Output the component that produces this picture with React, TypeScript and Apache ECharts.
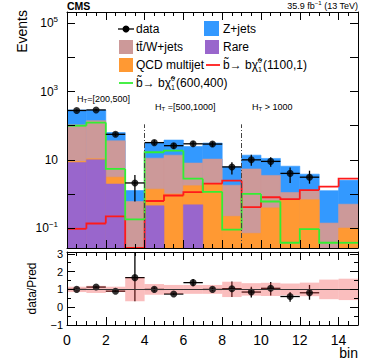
import React, { useEffect, useRef } from 'react';
import * as echarts from 'echarts';

const FONT = '"Liberation Sans", Arial, Helvetica, sans-serif';

// ---- data (15 bins, edges 0..15) ----
const binIndex = [0, 1, 2, 3, 4, 5, 6, 7, 8, 9, 10, 11, 12, 13, 14];
const rare = [8.3, 10, 1.95, 0, 0.45, 0, 0.48, 0, 0, 0, 0, 0, 0, 0, 0];
const qcd = [0.7, 0.7, 1.15, 0, 0.93, 1.0, 1.26, 2.0, 0.22, 0.07, 0.39, 0.68, 0.68, 0, 0.1];
const ttw = [97, 130, 33, 0.6, 9.8, 12.7, 6.3, 8.5, 1.58, 5.33, 3.1, 0.42, 0.55, 0.14, 0.4];
const zjets = [184, 149, 27, 0.66, 19.8, 24.3, 16.5, 20.5, 4.4, 8.3, 7.5, 5.4, 2.57, 1.11, 2.0];
const sig1100 = [0.095, 0.136, 0.22, 0, 0.62, 0.9, 1.13, 2.0, 2.45, 0.41, 0.8, 0.7, 1.3, 1.63, 2.8];
const sig600 = [100, 124, 5.4, 0.18, 16.7, 18.6, 2.8, 1.15, 0.09, 1.0, 0.6, 0.037, 0.093, 0.037, 0.037];
const dataObs = [280, 290, 56, 2.1, 32, 26, 29.5, 29, 6.2, 10, 9, 4.0, 3.1];
const dataLow = [263, 273, 49, 0.6, 27, 21, 24.5, 24, 3.7, 6.7, 6.3, 2.1, 2.0];
const dataHigh = [297, 307, 64, 3.6, 38, 31, 35, 34, 8.5, 14, 12, 6.0, 4.8];
const ratio = [1.0, 1.13, 0.9, 1.66, 1.0, 0.74, 1.38, 1.0, 1.04, 0.85, 1.06, 0.6, 0.81];
const ratioLow = [0.95, 1.08, 0.85, 0.34, 0.88, 0.68, 1.18, 0.9, 0.57, 0.55, 0.66, 0.3, 0.42];
const ratioHigh = [1.05, 1.18, 0.95, 3.3, 1.12, 0.8, 1.58, 1.1, 1.45, 1.15, 1.41, 0.85, 1.25];
const predUnc = [0.15, 0.2, 0.15, 0.66, 0.3, 0.25, 0.25, 0.25, 0.43, 0.35, 0.37, 0.33, 0.38, 0.55, 0.6];
const mainLabelExps = [-1, 1, 3, 5];
const htRegions = [
  { text: '{n|H}{t|T}{n|=[200,500]}', x: 77, y: 98.5 },
  { text: '{n|H}{t|T}{n| =[500,1000]}', x: 155, y: 106.5 },
  { text: '{n|H}{t|T}{n| > 1000}', x: 252, y: 106.5 },
];
const regionBoundaries = [4, 9];

const Y_MIN = 0.026;
const Y_MAX = 2.16e5;

const C_Z = '#3399ff';
const C_TTW = '#cc9999';
const C_RARE = '#9966cc';
const C_QCD = '#ff9933';
const C_RED = '#ff1a1a';
const C_GREEN = '#33ee33';

const cumRare = rare.slice();
const cumQcd = rare.map((v, i) => v + qcd[i]);
const cumTtw = cumQcd.map((v, i) => v + ttw[i]);
const cumZ = cumTtw.map((v, i) => v + zjets[i]);

function histSeries(name: string, cum: number[], color: string) {
  return {
    type: 'custom',
    name,
    xAxisIndex: 0,
    yAxisIndex: 0,
    clip: true,
    encode: { x: 0, y: 1 },
    data: binIndex.map((i) => [i, cum[i]]).filter((d) => d[1] > Y_MIN),
    renderItem: (_p: any, api: any) => {
      const i = api.value(0);
      const v = api.value(1);
      const a = api.coord([i, v]);
      const b = api.coord([i + 1, Y_MIN]);
      return {
        type: 'rect',
        shape: { x: a[0], y: a[1], width: b[0] - a[0], height: b[1] - a[1] },
        style: { fill: color, stroke: color, lineWidth: 0.6 },
      };
    },
  };
}

function stepSeries(name: string, vals: number[], color: string) {
  return {
    type: 'custom',
    name,
    xAxisIndex: 0,
    yAxisIndex: 0,
    clip: true,
    encode: { x: 0, y: 1 },
    data: binIndex.map((i) => [
      i,
      Math.max(vals[i], Y_MIN),
      Math.max(i > 0 ? vals[i - 1] : vals[i], Y_MIN),
    ]),
    renderItem: (_p: any, api: any) => {
      const i = api.value(0);
      const v = api.value(1);
      const pv = api.value(2);
      const p0 = api.coord([i, pv]);
      const p1 = api.coord([i, v]);
      const p2 = api.coord([i + 1, v]);
      return {
        type: 'polyline',
        shape: { points: [p0, p1, p2] },
        style: { stroke: color, lineWidth: 1.8, fill: 'none' },
      };
    },
  };
}

function errSeries(xi: number, yi: number, vals: number[], lo: number[], hi: number[]) {
  return {
    type: 'custom',
    xAxisIndex: xi,
    yAxisIndex: yi,
    clip: true,
    encode: { x: 0, y: 1 },
    data: vals.map((v, i) => [i + 0.5, v, lo[i], hi[i]]),
    renderItem: (_p: any, api: any) => {
      const x = api.value(0);
      const v = api.value(1);
      const l = api.coord([x - 0.5, v]);
      const r = api.coord([x + 0.5, v]);
      const t = api.coord([x, api.value(3)]);
      const b = api.coord([x, api.value(2)]);
      return {
        type: 'group',
        children: [
          { type: 'line', shape: { x1: l[0], y1: l[1], x2: r[0], y2: r[1] }, style: { stroke: '#000', lineWidth: 1.3 } },
          { type: 'line', shape: { x1: t[0], y1: t[1], x2: b[0], y2: b[1] }, style: { stroke: '#000', lineWidth: 1.3 } },
        ],
      };
    },
  };
}

const axisLine = { show: true, onZero: false, lineStyle: { color: '#000', width: 1 } };

function xAxis(gridIndex: number, position: string, showLabel: boolean) {
  return {
    type: 'value',
    gridIndex,
    position,
    min: 0,
    max: 15,
    interval: 2,
    z: 5,
    axisLine,
    axisTick: { show: true, inside: true, length: 8, lineStyle: { color: '#000' } },
    minorTick: { show: true, splitNumber: 4, length: 4, lineStyle: { color: '#000' } },
    splitLine: { show: false },
    axisLabel: showLabel
      ? {
          show: true,
          color: '#000',
          fontFamily: FONT,
          fontSize: 14,
          lineHeight: 12,
          margin: 9,
          showMaxLabel: false,
          formatter: (v: number) => (Number.isInteger(v) && v % 2 === 0 && v < 15 ? String(v) : ''),
        }
      : { show: false },
  };
}

function logAxis(position: string, showLabel: boolean) {
  return {
    type: 'log',
    gridIndex: 0,
    position,
    logBase: 10,
    min: Y_MIN,
    max: Y_MAX,
    splitNumber: 7,
    z: 5,
    axisLine,
    axisTick: { show: true, inside: true, length: 8, lineStyle: { color: '#000' } },
    splitLine: { show: false },
    axisLabel: showLabel
      ? {
          show: true,
          color: '#000',
          fontFamily: FONT,
          margin: 9,
          formatter: (v: number) => {
            const l = Math.log10(v);
            const e = Math.round(l);
            if (Math.abs(l - e) > 0.01 || mainLabelExps.indexOf(e) < 0) return '';
            if (e === 1) return '{b|10}';
            return `{b|10}{s|${e < 0 ? '\u2212' + Math.abs(e) : e}}`;
          },
          rich: {
            b: { fontSize: 12, lineHeight: 16, fontFamily: FONT, color: '#000' },
            s: { fontSize: 8, verticalAlign: 'top', fontFamily: FONT, color: '#000' },
          },
        }
      : { show: false },
  };
}

function ratioAxis(position: string, showLabel: boolean) {
  return {
    type: 'value',
    gridIndex: 1,
    position,
    min: -1,
    max: 3.1,
    interval: 1,
    z: 5,
    axisLine,
    axisTick: { show: true, inside: true, length: 8, lineStyle: { color: '#000' } },
    minorTick: { show: true, splitNumber: 2, length: 4, lineStyle: { color: '#000' } },
    splitLine: { show: false },
    axisLabel: showLabel
      ? {
          show: true,
          color: '#000',
          fontFamily: FONT,
          fontSize: 11,
          margin: 4,
          formatter: (v: number) => (Number.isInteger(v) ? (v < 0 ? '\u2212' + Math.abs(v) : String(v)) : ''),
        }
      : { show: false },
  };
}

const legendFont = { fontSize: 12, fontFamily: FONT, fill: '#000' };
const chiRich = {
  n: { fontSize: 12, fontFamily: FONT, fill: '#000', lineHeight: 16 },
  sup: { fontSize: 7, fontFamily: FONT, fill: '#000', verticalAlign: 'top', width: 0.1 },
  sub: { fontSize: 7, fontFamily: FONT, fill: '#000', verticalAlign: 'bottom', width: 5 },
};
const htRich = {
  n: { fontSize: 9, fontFamily: FONT, fill: '#000', lineHeight: 11 },
  t: { fontSize: 6, fontFamily: FONT, fill: '#000', verticalAlign: 'bottom' },
};

function box(x: number, y: number, w: number, h: number, color: string) {
  return { type: 'rect', z: 100, shape: { x, y, width: w, height: h }, style: { fill: color } };
}
function ltext(x: number, y: number, text: string, rich?: any) {
  return {
    type: 'text',
    z: 100,
    x,
    y,
    style: { text, ...legendFont, verticalAlign: 'middle', align: 'left', ...(rich ? { rich } : {}) },
  };
}

const graphic = [
  { type: 'text', z: 100, x: 67, y: 6, style: { text: 'CMS', fontSize: 10.5, fontWeight: 'bold', fontFamily: FONT, fill: '#000', verticalAlign: 'middle' } },
  {
    type: 'text', z: 100, x: 358, y: 6,
    style: {
      text: '{n|35.9 fb}{s|\u22121}{n| (13 TeV)}', align: 'right', verticalAlign: 'middle',
      rich: {
        n: { fontSize: 9, fontFamily: FONT, fill: '#000', lineHeight: 12 },
        s: { fontSize: 6, fontFamily: FONT, fill: '#000', verticalAlign: 'top' },
      },
    },
  },
  { type: 'text', z: 100, x: 22, y: 10, rotation: Math.PI / 2, style: { text: 'Events', fontSize: 14, fontFamily: FONT, fill: '#000', align: 'right', verticalAlign: 'middle' } },
  { type: 'text', z: 100, x: 32, y: 288.5, rotation: Math.PI / 2, style: { text: 'data/Pred', fontSize: 12, fontFamily: FONT, fill: '#000', align: 'center', verticalAlign: 'middle' } },
  { type: 'text', z: 100, x: 358, y: 347, style: { text: 'bin', fontSize: 14, lineHeight: 12, fontFamily: FONT, fill: '#000', align: 'right', verticalAlign: 'top' } },
  // legend
  { type: 'line', z: 100, shape: { x1: 118, y1: 29, x2: 134, y2: 29 }, style: { stroke: '#000', lineWidth: 1.3 } },
  { type: 'circle', z: 100, shape: { cx: 126, cy: 29, r: 3.5 }, style: { fill: '#000' } },
  ltext(136, 29, 'data'),
  box(204, 21, 15, 15, C_Z),
  ltext(223, 29, 'Z+jets'),
  box(119, 40, 14, 14, C_TTW),
  ltext(136, 47, 'tt\u0304/W+jets'),
  box(205, 40, 14, 14, C_RARE),
  ltext(223, 47, 'Rare'),
  box(119, 58, 14, 14, C_QCD),
  ltext(136, 65, 'QCD multijet'),
  { type: 'line', z: 100, shape: { x1: 206, y1: 65, x2: 220, y2: 65 }, style: { stroke: C_RED, lineWidth: 1.8 } },
  ltext(223, 65, '{n|b\u0303\u2192 b\u03c7\u0303}{sup|0}{sub|1}{n|(1100,1)}', chiRich),
  { type: 'line', z: 100, shape: { x1: 119, y1: 83, x2: 133, y2: 83 }, style: { stroke: C_GREEN, lineWidth: 1.8 } },
  ltext(136, 83, '{n|b\u0303\u2192 b\u03c7\u0303}{sup|0}{sub|1}{n|(600,400)}', chiRich),
  ...htRegions.map((r) => ({
    type: 'text', z: 100, x: r.x, y: r.y,
    style: { text: r.text, rich: htRich, verticalAlign: 'middle', align: 'left', fontFamily: FONT },
  })),
];

const option: any = {
  animation: false,
  backgroundColor: '#fff',
  textStyle: { fontFamily: FONT },
  grid: [
    { left: 67, top: 12, width: 291, height: 236, show: false },
    { left: 67, top: 252, width: 291, height: 73, show: false },
  ],
  xAxis: [xAxis(0, 'bottom', false), xAxis(0, 'top', false), xAxis(1, 'bottom', true), xAxis(1, 'top', false)],
  yAxis: [logAxis('left', true), logAxis('right', false), ratioAxis('left', true), ratioAxis('right', false)],
  graphic,
  series: [
    histSeries('Z+jets', cumZ, C_Z),
    histSeries('tt/W+jets', cumTtw, C_TTW),
    histSeries('QCD multijet', cumQcd, C_QCD),
    histSeries('Rare', cumRare, C_RARE),
    stepSeries('sb 1100,1', sig1100, C_RED),
    stepSeries('sb 600,400', sig600, C_GREEN),
    errSeries(0, 0, dataObs, dataLow, dataHigh),
    {
      type: 'scatter',
      name: 'data',
      xAxisIndex: 0,
      yAxisIndex: 0,
      symbol: 'circle',
      symbolSize: 7,
      itemStyle: { color: '#000' },
      data: dataObs.map((v, i) => [i + 0.5, v]),
      markLine: {
        silent: true,
        symbol: ['none', 'none'],
        label: { show: false },
        lineStyle: { color: '#444', width: 1, type: [5, 2, 1, 2] },
        data: regionBoundaries.map((b) => [{ coord: [b, Y_MIN] }, { coord: [b, 110] }]),
      },
    },
    // ratio panel
    errSeries(2, 2, ratio, ratioLow, ratioHigh),
    {
      type: 'scatter',
      xAxisIndex: 2,
      yAxisIndex: 2,
      symbol: 'circle',
      symbolSize: 7,
      itemStyle: { color: '#000' },
      data: ratio.map((v, i) => [i + 0.5, v]),
      markLine: {
        silent: true,
        symbol: ['none', 'none'],
        label: { show: false },
        lineStyle: { color: '#333', width: 1.2, type: 'solid' },
        data: [{ yAxis: 1 }],
      },
    },
    {
      type: 'custom',
      xAxisIndex: 2,
      yAxisIndex: 2,
      clip: true,
      encode: { x: 0, y: 1 },
      data: predUnc.map((u, i) => [i, 1 - u, 1 + u]),
      renderItem: (_p: any, api: any) => {
        const i = api.value(0);
        const a = api.coord([i, api.value(2)]);
        const b = api.coord([i + 1, api.value(1)]);
        return {
          type: 'rect',
          shape: { x: a[0], y: a[1], width: b[0] - a[0], height: b[1] - a[1] },
          style: { fill: 'rgba(240,70,70,0.35)' },
        };
      },
    },
  ],
};

export default function App() {
  const ref = useRef<HTMLDivElement>(null);
  useEffect(() => {
    const chart = echarts.init(ref.current as HTMLDivElement, undefined, { renderer: 'svg' });
    chart.setOption(option);
    return () => chart.dispose();
  }, []);
  return <div ref={ref} style={{ position: 'absolute', left: 0, top: 0, width: 374, height: 360 }} />;
}
